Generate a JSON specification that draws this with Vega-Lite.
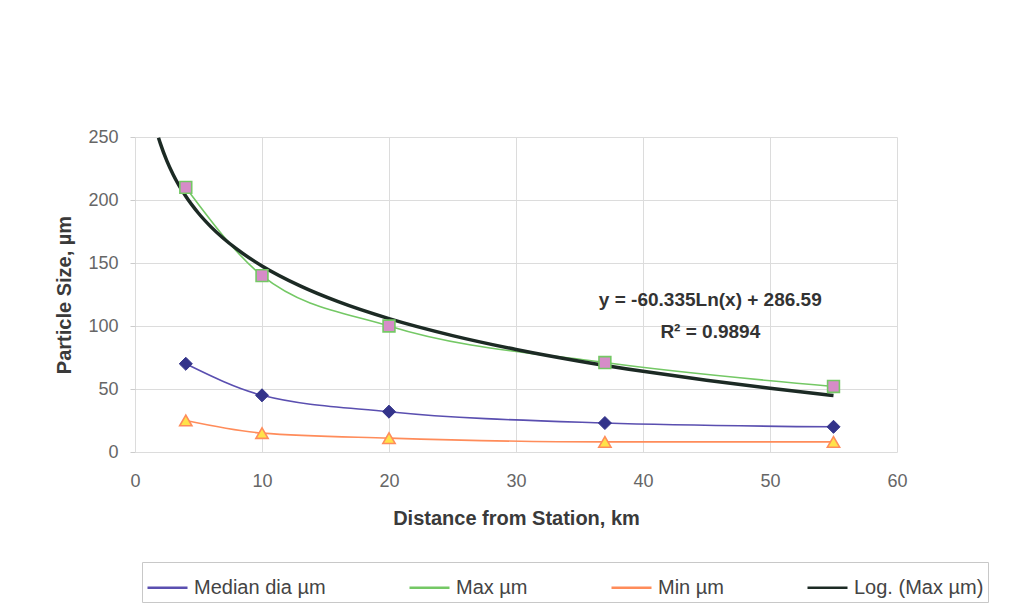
{
  "$schema": "https://vega.github.io/schema/vega-lite/v6.json",
  "width": 762,
  "height": 315,
  "autosize": {"type": "none"},
  "padding": {"left": 135, "top": 137, "right": 124, "bottom": 159},
  "background": "white",
  "config": {
    "view": {"stroke": null},
    "font": "Liberation Sans",
    "axis": {
      "labelFont": "Liberation Sans",
      "titleFont": "Liberation Sans",
      "labelFontSize": 18,
      "labelColor": "#666666",
      "titleFontSize": 20,
      "titleFontWeight": "bold",
      "titleColor": "#3a3a3a",
      "gridColor": "#dcdcdc",
      "gridWidth": 1,
      "domain": false
    }
  },
  "datasets": {
    "obs": [
      {"series": "Median dia µm", "dist": 4, "size": 70},
      {"series": "Median dia µm", "dist": 10, "size": 45},
      {"series": "Median dia µm", "dist": 20, "size": 32},
      {"series": "Median dia µm", "dist": 37, "size": 23},
      {"series": "Median dia µm", "dist": 55, "size": 20},
      {"series": "Max µm", "dist": 4, "size": 210},
      {"series": "Max µm", "dist": 10, "size": 140},
      {"series": "Max µm", "dist": 20, "size": 100},
      {"series": "Max µm", "dist": 37, "size": 71},
      {"series": "Max µm", "dist": 55, "size": 52},
      {"series": "Min µm", "dist": 4, "size": 25},
      {"series": "Min µm", "dist": 10, "size": 15},
      {"series": "Min µm", "dist": 20, "size": 11},
      {"series": "Min µm", "dist": 37, "size": 8},
      {"series": "Min µm", "dist": 55, "size": 8}
    ],
    "trend": [
      {"series": "Log. (Max µm)", "dist": 1.85, "size": 249.47},
      {"series": "Log. (Max µm)", "dist": 2, "size": 244.77},
      {"series": "Log. (Max µm)", "dist": 2.5, "size": 231.31},
      {"series": "Log. (Max µm)", "dist": 3, "size": 220.31},
      {"series": "Log. (Max µm)", "dist": 4, "size": 202.95},
      {"series": "Log. (Max µm)", "dist": 5, "size": 189.48},
      {"series": "Log. (Max µm)", "dist": 6, "size": 178.48},
      {"series": "Log. (Max µm)", "dist": 8, "size": 161.13},
      {"series": "Log. (Max µm)", "dist": 10, "size": 147.66},
      {"series": "Log. (Max µm)", "dist": 13, "size": 131.83},
      {"series": "Log. (Max µm)", "dist": 16, "size": 119.31},
      {"series": "Log. (Max µm)", "dist": 20, "size": 105.84},
      {"series": "Log. (Max µm)", "dist": 25, "size": 92.38},
      {"series": "Log. (Max µm)", "dist": 30, "size": 81.38},
      {"series": "Log. (Max µm)", "dist": 35, "size": 72.08},
      {"series": "Log. (Max µm)", "dist": 40, "size": 64.02},
      {"series": "Log. (Max µm)", "dist": 45, "size": 56.92},
      {"series": "Log. (Max µm)", "dist": 50, "size": 50.56},
      {"series": "Log. (Max µm)", "dist": 55, "size": 44.81}
    ],
    "notes": [
      {"label": "y = -60.335Ln(x) + 286.59", "dist": 45.3, "size": 120.6},
      {"label": "R² = 0.9894", "dist": 45.3, "size": 95.2}
    ]
  },
  "encoding": {
    "x": {
      "field": "dist",
      "type": "quantitative",
      "scale": {"domain": [0, 60], "nice": false},
      "axis": {
        "title": "Distance from Station, km",
        "values": [0, 10, 20, 30, 40, 50, 60],
        "ticks": false,
        "labelPadding": 20,
        "titlePadding": 18,
        "labelFlush": false
      }
    },
    "y": {
      "field": "size",
      "type": "quantitative",
      "scale": {"domain": [0, 250], "nice": false},
      "axis": {
        "title": "Particle Size, µm",
        "values": [0, 50, 100, 150, 200, 250],
        "tickSize": 5,
        "tickColor": "#cccccc",
        "labelPadding": 12,
        "titlePadding": 13
      }
    }
  },
  "layer": [
    {
      "data": {"name": "notes"},
      "mark": {"type": "text", "font": "Liberation Sans", "fontSize": 19, "fontWeight": "bold", "fill": "#333333", "align": "center", "baseline": "middle"},
      "encoding": {"text": {"field": "label", "type": "nominal"}}
    },
    {
      "data": {"name": "obs"},
      "mark": {"type": "line", "interpolate": "monotone", "strokeWidth": 1.6},
      "encoding": {
        "color": {
          "field": "series",
          "type": "nominal",
          "scale": {
            "domain": ["Median dia µm", "Max µm", "Min µm", "Log. (Max µm)"],
            "range": ["#5a4fb0", "#74c865", "#ff8c5a", "#1c2a24"]
          },
          "legend": {
            "title": null,
            "orient": "none",
            "legendX": 7,
            "legendY": 425,
            "direction": "horizontal",
            "columns": 4,
            "columnPadding": 78,
            "padding": 4,
            "strokeColor": "#c8c8c8",
            "fillColor": "white",
            "symbolType": "stroke",
            "symbolSize": 1600,
            "symbolStrokeWidth": 2.5,
            "labelFont": "Liberation Sans",
            "labelFontSize": 20,
            "labelColor": "#444444",
            "labelOffset": 5,
            "labelLimit": 400
          }
        }
      }
    },
    {
      "data": {"name": "trend"},
      "mark": {"type": "line", "interpolate": "monotone", "strokeWidth": 3.5},
      "encoding": {"color": {"field": "series", "type": "nominal"}}
    },
    {
      "data": {"name": "obs"},
      "transform": [{"filter": "datum.series === 'Median dia µm'"}],
      "mark": {"type": "point", "shape": "diamond", "filled": true, "size": 170, "fill": "#33338a", "stroke": "#33338a", "strokeWidth": 1, "opacity": 1}
    },
    {
      "data": {"name": "obs"},
      "transform": [{"filter": "datum.series === 'Max µm'"}],
      "mark": {"type": "point", "shape": "square", "filled": true, "size": 140, "fill": "#d68cc8", "stroke": "#74c865", "strokeWidth": 1.6, "opacity": 1}
    },
    {
      "data": {"name": "obs"},
      "transform": [{"filter": "datum.series === 'Min µm'"}],
      "mark": {"type": "point", "shape": "triangle-up", "filled": true, "size": 150, "fill": "#ffe24a", "stroke": "#ff8c5a", "strokeWidth": 1.6, "opacity": 1}
    }
  ]
}
